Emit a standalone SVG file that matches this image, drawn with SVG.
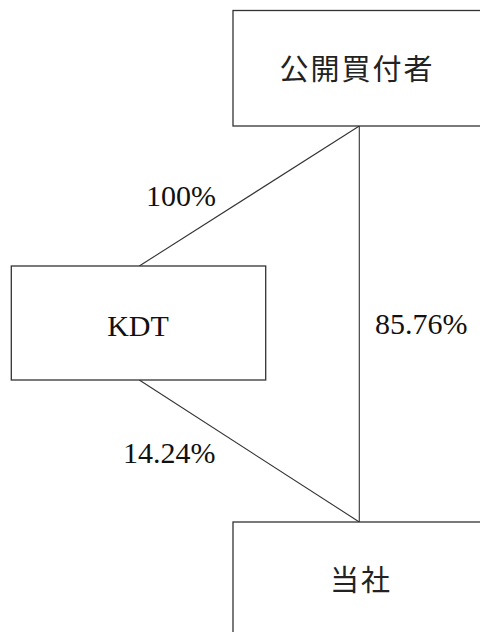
<svg xmlns="http://www.w3.org/2000/svg" width="480" height="632" viewBox="0 0 480 632">
<style>
.box{fill:#fff;stroke:#333;stroke-width:1.3}
.ln{stroke:#333;stroke-width:1.1;fill:none}
.jp{font-family:"Noto Sans CJK JP","Noto Sans CJK SC",sans-serif;font-size:29px;letter-spacing:2px;fill:#222;text-anchor:middle}
.lt{font-family:"Liberation Serif","Times New Roman","DejaVu Serif",serif;font-size:30px;fill:#111}
</style>
<rect width="480" height="632" fill="#fff"/>
<g id="connectors">
<line class="ln" x1="359.3" y1="126" x2="139.3" y2="266"/>
<line class="ln" x1="359.3" y1="126" x2="359.3" y2="522"/>
<line class="ln" x1="139.3" y1="380" x2="359.3" y2="522"/>
<text class="lt" font-family="Liberation Serif, serif" x="146" y="206">100%</text>
<text class="lt" font-family="Liberation Serif, serif" x="123" y="463">14.24%</text>
<text class="lt" font-family="Liberation Serif, serif" x="375" y="334">85.76%</text>
</g>
<g id="tender">
<rect class="box" x="233" y="10.5" width="260" height="115.5"/>
<text class="jp" x="357" y="80">公開買付者</text>
</g>
<g id="kdt">
<rect class="box" x="11.3" y="266" width="254.4" height="114"/>
<text class="lt" font-family="Liberation Serif, serif" x="138" y="336" text-anchor="middle" font-size="31">KDT</text>
</g>
<g id="company">
<rect class="box" x="233" y="522" width="260" height="130"/>
<text class="jp" x="361" y="591">当社</text>
</g>
</svg>
